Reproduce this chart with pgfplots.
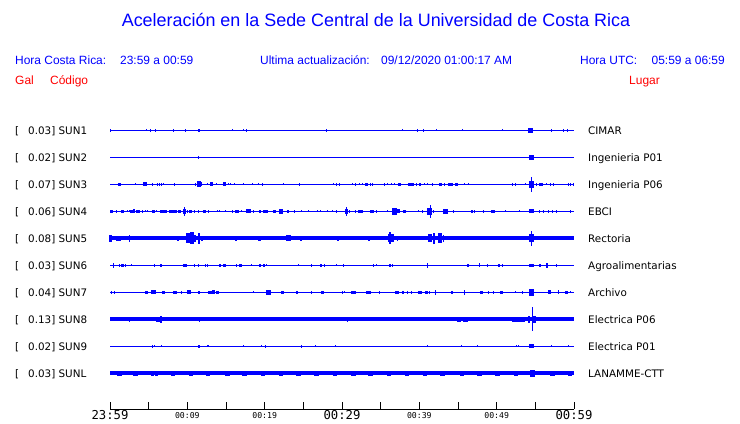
\documentclass[border=0pt]{standalone}
\usepackage{pgfplots}
\pgfplotsset{compat=1.18}
\usepackage{fontspec}
\setmainfont{Liberation Sans}
\newfontfamily\dejavu{DejaVu Sans}
\newfontfamily\dejavumono{DejaVu Sans Mono}
\definecolor{sblue}{RGB}{0,0,255}
\definecolor{sred}{RGB}{255,0,0}
\newcommand{\bt}{\dejavumono\fontsize{12.3}{12.3}\selectfont}
\newcommand{\st}{\dejavumono\fontsize{8.2}{8.2}\selectfont}
\pgfplotsset{
  base/.style={sblue, line width=#1},
  spk/.style={draw=none, mark=none, forget plot,
    error bars/.cd, y dir=both, y explicit, error mark=none,
    error bar style={draw=sblue, line width=#1}},
}
\begin{document}
\begin{tikzpicture}[x=1bp,y=1bp]
\path[use as bounding box] (0,0) rectangle (740,423);
\begin{axis}[at={(110bp,14bp)}, anchor=south west, scale only axis,
  width=464bp, height=292.2bp, xmin=0, xmax=60, ymin=-0.322, ymax=10.5,
  axis x line=bottom, axis y line=none, ytick=\empty,
  axis line style={-, black, line width=0.8bp},
  xtick={0,5,...,60},
  xticklabels={{\bt 23:59},{},{\st 00:09},{},{\st 00:19},{},{\bt 00:29},{},{\st 00:39},{},{\st 00:49},{},{\bt 00:59}},
  xtick align=inside, major tick length=7bp,
  x tick style={black, line width=0.8bp},
  xticklabel style={anchor=center, yshift=-6.5bp},
  clip=false]
% ---------- SUN1 (y=10)
\addplot[base=1.5bp] coordinates {(0,10) (60,10)};
\addplot[spk=1bp] coordinates {(0.05,10)+-(0,.05) (4.7,10)+-(0,.04) (5.3,10)+-(0,.06) (5.9,10)+-(0,.06) (8.2,10)+-(0,.06) (9.7,10)+-(0,.06) (15.9,10)+-(0,.04) (17.2,10)+-(0,.04) (17.6,10)+-(0,.06) (28.0,10)+-(0,.06) (37.8,10)+-(0,.04) (39.7,10)+-(0,.06) (40.5,10)+-(0,.06) (42.2,10)+-(0,.04) (45.6,10)+-(0,.04) (50.7,10)+-(0,.04) (57.1,10)+-(0,.06) (58.6,10)+-(0,.05) (59.1,10)+-(0,.05)};
\addplot[spk=2.6bp] coordinates {(11.5,10)+-(0,.06)};
\addplot[spk=4.5bp] coordinates {(54.4,10)+-(0,.1)};
% ---------- SUN2 (y=9)
\addplot[base=1.5bp] coordinates {(0,9) (60,9)};
\addplot[spk=1bp] coordinates {(11.4,9)+-(0,.06)};
\addplot[spk=4.5bp] coordinates {(54.5,9)+-(0,.085)};
% ---------- SUN3 (y=8)
\addplot[base=1.5bp] coordinates {(0,8) (60,8)};
\addplot[spk=1bp] coordinates {(3.3,8)+-(0,.04) (5.5,8)+-(0,.05) (6.1,8)+-(0,.05) (6.4,8)+-(0,.06) (6.6,8)+-(0,.06) (6.9,8)+-(0,.04) (8.4,8)+-(0,.05) (11.1,8)+-(0,.06) (11.8,8)+-(0,.074) (12.6,8)+-(0,.04) (13.8,8)+-(0,.04) (15.3,8)+-(0,.04) (15.6,8)+-(0,.04) (16.1,8)+-(0,.04) (17.2,8)+-(0,.04) (18.4,8)+-(0,.04) (19.2,8)+-(0,.04) (19.7,8)+-(0,.05) (22.4,8)+-(0,.04) (24.5,8)+-(0,.06) (28.9,8)+-(0,.04) (29.3,8)+-(0,.05) (29.7,8)+-(0,.05) (31.3,8)+-(0,.04) (31.7,8)+-(0,.05) (32.2,8)+-(0,.04) (32.6,8)+-(0,.04) (33.7,8)+-(0,.05) (34.0,8)+-(0,.05) (35.5,8)+-(0,.05) (35.9,8)+-(0,.04) (36.4,8)+-(0,.04) (36.8,8)+-(0,.04) (39.6,8)+-(0,.05) (40.7,8)+-(0,.04) (41.1,8)+-(0,.04) (41.7,8)+-(0,.05) (43.2,8)+-(0,.05) (45.8,8)+-(0,.04) (46.3,8)+-(0,.04) (52.0,8)+-(0,.05) (52.4,8)+-(0,.05) (53.7,8)+-(0,.04) (55.2,8)+-(0,.05) (56.5,8)+-(0,.04) (56.9,8)+-(0,.05) (57.4,8)+-(0,.05) (59.3,8)+-(0,.05) (59.6,8)+-(0,.05) (59.9,8)+-(0,.05) (54.5,8)+-(0,.27)};
\addplot[spk=2.6bp] coordinates {(1.2,8)+-(0,.06) (13.1,8)+-(0,.074) (14.8,8)+-(0,.074) (33.2,8)+-(0,.06) (37.4,8)+-(0,.06) (38.7,8)+-(0,.06) (39.1,8)+-(0,.06) (40.1,8)+-(0,.06) (42.7,8)+-(0,.06) (44.8,8)+-(0,.06)};
\addplot[spk=4.5bp] coordinates {(4.5,8)+-(0,.074) (11.5,8)+-(0,.11) (44.0,8)+-(0,.06) (54.5,8)+-(0,.12) (55.7,8)+-(0,.06)};
% ---------- SUN4 (y=7)
\addplot[base=1.5bp] coordinates {(0,7) (60,7)};
\addplot[spk=1bp] coordinates {(0.9,7)+-(0,.05) (2.2,7)+-(0,.04) (2.5,7)+-(0,.04) (4.2,7)+-(0,.05) (4.6,7)+-(0,.04) (4.8,7)+-(0,.04) (6.0,7)+-(0,.04) (8.6,7)+-(0,.05) (10.0,7)+-(0,.05) (10.9,7)+-(0,.05) (11.5,7)+-(0,.05) (12.8,7)+-(0,.05) (13.9,7)+-(0,.04) (14.1,7)+-(0,.04) (14.9,7)+-(0,.04) (15.9,7)+-(0,.05) (17.0,7)+-(0,.04) (18.6,7)+-(0,.05) (23.8,7)+-(0,.05) (24.7,7)+-(0,.04) (25.7,7)+-(0,.04) (26.8,7)+-(0,.04) (27.2,7)+-(0,.04) (28.1,7)+-(0,.04) (28.8,7)+-(0,.04) (29.3,7)+-(0,.05) (31.0,7)+-(0,.05) (31.8,7)+-(0,.05) (34.4,7)+-(0,.05) (35.9,7)+-(0,.04) (39.9,7)+-(0,.04) (40.4,7)+-(0,.05) (41.5,7)+-(0,.25) (41.8,7)+-(0,.05) (44.4,7)+-(0,.05) (47.1,7)+-(0,.05) (48.3,7)+-(0,.05) (51.2,7)+-(0,.04) (53.0,7)+-(0,.04) (55.6,7)+-(0,.06) (56.0,7)+-(0,.05) (56.7,7)+-(0,.05) (57.2,7)+-(0,.05) (57.7,7)+-(0,.05) (59.5,7)+-(0,.05) (9.6,7)+-(0,.17) (30.6,7)+-(0,.17)};
\addplot[spk=2.6bp] coordinates {(0.2,7)+-(0,.06) (1.6,7)+-(0,.05) (2.8,7)+-(0,.06) (3.1,7)+-(0,.074) (5.6,7)+-(0,.05) (7.8,7)+-(0,.05) (9.0,7)+-(0,.06) (9.6,7)+-(0,.09) (10.4,7)+-(0,.06) (12.2,7)+-(0,.05) (19.4,7)+-(0,.05) (21.3,7)+-(0,.06) (23.0,7)+-(0,.05) (30.6,7)+-(0,.09) (32.2,7)+-(0,.06) (32.5,7)+-(0,.05) (37.3,7)+-(0,.074) (38.1,7)+-(0,.05) (46.8,7)+-(0,.06)};
\addplot[spk=4.5bp] coordinates {(3.6,7)+-(0,.06) (6.7,7)+-(0,.06) (7.1,7)+-(0,.06) (8.3,7)+-(0,.06) (16.4,7)+-(0,.06) (17.9,7)+-(0,.074) (20.1,7)+-(0,.06) (22.1,7)+-(0,.086) (33.9,7)+-(0,.06) (36.8,7)+-(0,.123) (41.3,7)+-(0,.123) (43.4,7)+-(0,.1) (49.5,7)+-(0,.06) (54.5,7)+-(0,.074)};
% ---------- SUN5 (y=6)
\addplot[base=3.7bp] coordinates {(0,6) (60,6)};
\addplot[spk=1.2bp] coordinates {(1.9,6)+-(0,.074) (2.5,6)+-(0,.123) (4.4,6)+-(0,.074) (11.5,6)+-(0,.21) (16.0,6)+-(0,.074) (16.3,6)+-(0,.086) (20.8,6)+-(0,.074) (23.5,6)+-(0,.074) (25.4,6)+-(0,.074) (26.3,6)+-(0,.074) (26.6,6)+-(0,.074) (27.5,6)+-(0,.074) (28.0,6)+-(0,.074) (30.0,6)+-(0,.074) (33.5,6)+-(0,.086) (36.2,6)+-(0,.22) (37.2,6)+-(0,.1) (41.9,6)+-(0,.2) (43.1,6)+-(0,.123) (45.8,6)+-(0,.062) (46.9,6)+-(0,.074) (47.5,6)+-(0,.062) (48.3,6)+-(0,.074) (48.9,6)+-(0,.074) (50.7,6)+-(0,.074) (54.5,6)+-(0,.27) (55.0,6)+-(0,.074) (58.2,6)+-(0,.074)};
\addplot[spk=2.6bp] coordinates {(0.1,6)+-(0,.123) (8.8,6)+-(0,.1) (11.0,6)+-(0,.123) (11.9,6)+-(0,.1) (19.3,6)+-(0,.1) (24.7,6)+-(0,.1) (29.5,6)+-(0,.086) (36.6,6)+-(0,.148) (56.2,6)+-(0,.074)};
\addplot[spk=4.5bp] coordinates {(1.1,6)+-(0,.086) (3.4,6)+-(0,.074) (5.0,6)+-(0,.074) (10.1,6)+-(0,.185) (10.6,6)+-(0,.22) (23.1,6)+-(0,.11) (36.2,6)+-(0,.148) (41.4,6)+-(0,.148) (42.7,6)+-(0,.185) (52.2,6)+-(0,.062) (54.5,6)+-(0,.148)};
% ---------- SUN6 (y=5)
\addplot[base=1.5bp] coordinates {(0,5) (60,5)};
\addplot[spk=1bp] coordinates {(0.4,5)+-(0,.086) (1.2,5)+-(0,.05) (2.0,5)+-(0,.05) (2.8,5)+-(0,.04) (5.8,5)+-(0,.05) (10.9,5)+-(0,.05) (11.4,5)+-(0,.05) (12.3,5)+-(0,.05) (12.6,5)+-(0,.05) (16.4,5)+-(0,.05) (18.3,5)+-(0,.04) (20.2,5)+-(0,.04) (24.4,5)+-(0,.04) (26.1,5)+-(0,.06) (27.8,5)+-(0,.05) (29.3,5)+-(0,.04) (30.2,5)+-(0,.05) (34.1,5)+-(0,.05) (34.4,5)+-(0,.04) (36.5,5)+-(0,.05) (41.0,5)+-(0,.086) (47.8,5)+-(0,.074) (48.8,5)+-(0,.05) (50.7,5)+-(0,.05) (57.8,5)+-(0,.05)};
\addplot[spk=2.6bp] coordinates {(1.6,5)+-(0,.05) (6.6,5)+-(0,.05) (14.2,5)+-(0,.05) (14.8,5)+-(0,.05) (16.9,5)+-(0,.05) (19.4,5)+-(0,.05) (19.9,5)+-(0,.05) (27.3,5)+-(0,.05) (36.2,5)+-(0,.06) (46.3,5)+-(0,.05) (50.3,5)+-(0,.06) (55.6,5)+-(0,.05) (56.5,5)+-(0,.1)};
\addplot[spk=4.5bp] coordinates {(9.7,5)+-(0,.05) (54.5,5)+-(0,.06)};
% ---------- SUN7 (y=4)
\addplot[base=1.5bp] coordinates {(0,4) (60,4)};
\addplot[spk=1bp] coordinates {(0.2,4)+-(0,.05) (0.6,4)+-(0,.05) (9.2,4)+-(0,.05) (18.5,4)+-(0,.04) (26.1,4)+-(0,.05) (30.0,4)+-(0,.05) (30.3,4)+-(0,.04) (34.9,4)+-(0,.05) (38.5,4)+-(0,.05) (39.0,4)+-(0,.05) (41.3,4)+-(0,.05) (42.1,4)+-(0,.1) (45.9,4)+-(0,.086) (49.0,4)+-(0,.05) (49.6,4)+-(0,.05) (52.4,4)+-(0,.04) (53.4,4)+-(0,.05) (58.0,4)+-(0,.074) (59.6,4)+-(0,.04)};
\addplot[spk=2.6bp] coordinates {(4.7,4)+-(0,.05) (6.9,4)+-(0,.06) (11.5,4)+-(0,.05) (13.4,4)+-(0,.074) (13.9,4)+-(0,.05) (22.3,4)+-(0,.06) (24.2,4)+-(0,.05) (27.5,4)+-(0,.05) (37.9,4)+-(0,.05) (40.9,4)+-(0,.05) (44.2,4)+-(0,.05) (48.0,4)+-(0,.06) (50.6,4)+-(0,.06) (56.8,4)+-(0,.074) (59.0,4)+-(0,.05)};
\addplot[spk=4.5bp] coordinates {(5.6,4)+-(0,.074) (8.4,4)+-(0,.05) (10.2,4)+-(0,.074) (12.9,4)+-(0,.05) (20.5,4)+-(0,.086) (31.5,4)+-(0,.05) (33.4,4)+-(0,.05) (37.1,4)+-(0,.05) (40.1,4)+-(0,.06) (54.5,4)+-(0,.123)};
% ---------- SUN8 (y=3)
\addplot[base=4bp] coordinates {(0,3) (60,3)};
\addplot[spk=1.2bp] coordinates {(0.2,3)+-(0,.074) (2.5,3)+-(0,.086) (3.4,3)+-(0,.062) (4.1,3)+-(0,.074) (4.6,3)+-(0,.062) (5.1,3)+-(0,.074) (6.6,3)+-(0,.123) (9.4,3)+-(0,.074) (10.3,3)+-(0,.074) (11.1,3)+-(0,.074) (11.6,3)+-(0,.1) (12.0,3)+-(0,.074) (13.8,3)+-(0,.074) (14.2,3)+-(0,.062) (17.1,3)+-(0,.074) (17.5,3)+-(0,.074) (19.5,3)+-(0,.062) (20.0,3)+-(0,.062) (20.5,3)+-(0,.062) (24.1,3)+-(0,.062) (24.6,3)+-(0,.062) (28.7,3)+-(0,.074) (29.1,3)+-(0,.074) (30.7,3)+-(0,.086) (34.1,3)+-(0,.062) (35.2,3)+-(0,.062) (37.4,3)+-(0,.062) (38.6,3)+-(0,.062) (47.3,3)+-(0,.074) (49.5,3)+-(0,.05) (54.6,3)+-(0,.44)};
\addplot[spk=2.6bp] coordinates {(54.2,3)+-(0,.123) (54.9,3)+-(0,.123)};
\addplot[spk=4.5bp] coordinates {(6.3,3)+-(0,.086) (45.1,3)+-(0,.086) (46.0,3)+-(0,.086) (52.3,3)+-(0,.086) (52.9,3)+-(0,.1) (53.4,3)+-(0,.086)};
% ---------- SUN9 (y=2)
\addplot[base=1.5bp] coordinates {(0,2) (60,2)};
\addplot[spk=1bp] coordinates {(5.5,2)+-(0,.06) (5.8,2)+-(0,.04) (6.6,2)+-(0,.04) (12.6,2)+-(0,.04) (12.8,2)+-(0,.04) (17.2,2)+-(0,.04) (19.6,2)+-(0,.04) (20.1,2)+-(0,.05) (24.8,2)+-(0,.05) (26.6,2)+-(0,.04) (29.1,2)+-(0,.04) (41.1,2)+-(0,.04) (45.4,2)+-(0,.04) (47.5,2)+-(0,.04) (52.6,2)+-(0,.04) (52.8,2)+-(0,.04) (57.1,2)+-(0,.04) (59.3,2)+-(0,.04)};
\addplot[spk=2.6bp] coordinates {(11.5,2)+-(0,.05)};
\addplot[spk=4.5bp] coordinates {(54.5,2)+-(0,.074)};
% ---------- SUNL (y=1)
\addplot[base=4bp] coordinates {(0,1) (60,1)};
\addplot[spk=1.2bp] coordinates {(3.7,1)+-(0,.074) (9.9,1)+-(0,.074) (11.4,1)+-(0,.074) (50.4,1)+-(0,.1)};
\addplot[spk=2.6bp] coordinates {(5.5,1)+-(0,.086) (6.0,1)+-(0,.086) (8.0,1)+-(0,.086) (8.3,1)+-(0,.086) (15.1,1)+-(0,.086) (15.3,1)+-(0,.086)};
\addplot[spk=4.5bp] coordinates {(1.2,1)+-(0,.086) (3.3,1)+-(0,.086) (10.5,1)+-(0,.086) (12.7,1)+-(0,.086) (17.4,1)+-(0,.086) (19.8,1)+-(0,.086) (22.1,1)+-(0,.086) (24.4,1)+-(0,.086) (26.7,1)+-(0,.086) (29.1,1)+-(0,.086) (31.5,1)+-(0,.086) (33.7,1)+-(0,.086) (36.1,1)+-(0,.086) (38.4,1)+-(0,.086) (40.7,1)+-(0,.086) (43.0,1)+-(0,.086) (45.5,1)+-(0,.086) (47.8,1)+-(0,.086) (50.1,1)+-(0,.1) (52.5,1)+-(0,.086) (54.6,1)+-(0,.123) (57.2,1)+-(0,.086) (59.5,1)+-(0,.086)};
\end{axis}
% ---------- titles and labels
\node[anchor=base, text=sblue, font=\fontsize{18}{18}\selectfont] at (376,396) {Aceleración en la Sede Central de la Universidad de Costa Rica};
\begin{scope}[every node/.style={anchor=base west, inner sep=0pt, text=sblue, font=\fontsize{12}{12}\selectfont}]
\node at (15,359) {Hora Costa Rica:};
\node at (120,359) {23:59 a 00:59};
\node at (260,359) {Ultima actualización:};
\node at (381,359) {09/12/2020 01:00:17 AM};
\node at (580,359) {Hora UTC:};
\node[anchor=base east] at (725,359) {05:59 a 06:59};
\end{scope}
\begin{scope}[every node/.style={anchor=base west, inner sep=0pt, text=sred, font=\fontsize{12}{12}\selectfont}]
\node at (15,339) {Gal};
\node at (50,339) {Código};
\node at (629,339) {Lugar};
\end{scope}
\begin{scope}[every node/.style={anchor=base west, inner sep=0pt, text=black, font=\dejavu\fontsize{10.4}{10.4}\selectfont}]
\foreach \v/\c/\l [count=\k from 0] in {0.03/SUN1/CIMAR, 0.02/SUN2/Ingenieria P01, 0.07/SUN3/Ingenieria P06, 0.06/SUN4/EBCI, 0.08/SUN5/Rectoria, 0.03/SUN6/Agroalimentarias, 0.04/SUN7/Archivo, 0.13/SUN8/Electrica P06, 0.02/SUN9/Electrica P01, 0.03/SUNL/LANAMME-CTT}{
  \node at (15,{292.7-27*\k-3.8}) {[};
  \node at (28,{292.7-27*\k-3.8}) {\v] \c};
  \node at (588,{292.7-27*\k-3.8}) {\l};
}
\end{scope}
\end{tikzpicture}
\end{document}
